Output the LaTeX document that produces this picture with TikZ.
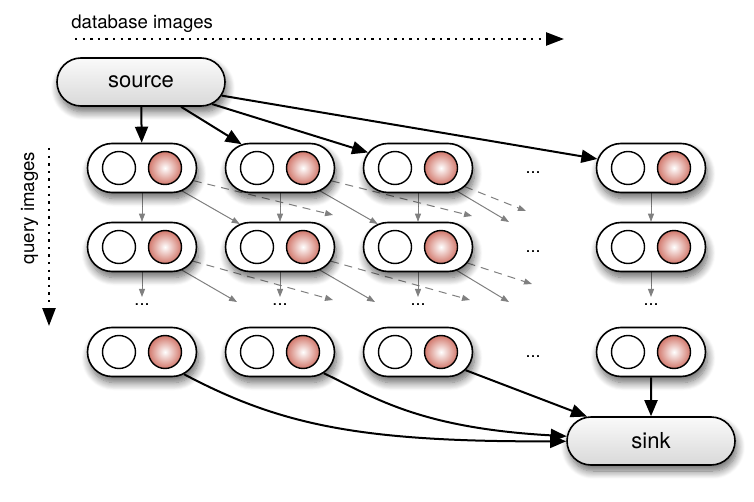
\documentclass[tikz,border=0pt]{standalone}
\usepackage{fontspec}
\setmainfont{TeX Gyre Heros}
\usepackage{tikz}
\usetikzlibrary{arrows.meta,shapes.misc,shadows.blur,backgrounds}
\definecolor{cellred}{RGB}{210,120,108}
\tikzstyle{cell} = [rounded rectangle, draw, line width=0.8pt, fill=white, minimum width=54.5pt, minimum height=24.5pt, inner sep=0pt, blur shadow={shadow xshift=1pt, shadow yshift=-3pt, shadow blur radius=4pt, shadow blur steps=10, shadow opacity=60}]
\tikzstyle{terminal} = [cell, minimum width=84pt, minimum height=24pt, top color=gray!4, bottom color=gray!30, font=\fontsize{11}{13}\selectfont]
\tikzstyle{plain} = [circle, draw, line width=0.7pt, minimum size=16.5pt, inner sep=0pt, fill=white]
\tikzstyle{ball} = [plain, inner color=white, outer color=cellred]
\tikzstyle{heading} = [inner sep=0pt, font=\fontsize{9.3}{11}\selectfont]
\tikzstyle{etc} = [font=\fontsize{9}{10}\selectfont]
\tikzstyle{link} = [line width=1pt, -{Triangle[length=8pt,width=6.5pt]}]
\tikzstyle{flow} = [gray, line width=0.5pt, -{Triangle[length=4pt,width=3pt]}]
\tikzstyle{skip} = [flow, dash pattern=on 4pt off 3pt]
\tikzstyle{axis} = [line width=1.2pt, dash pattern=on 1.2pt off 2.6pt, -{Triangle[length=9pt,width=6.5pt]}]

\begin{document}
\begin{tikzpicture}[x=0.5pt, y=-0.5pt, node distance=11.5pt]
\useasboundingbox (0,0) rectangle (754,502);

% axes
\node (dbtext) [heading, anchor=base west] at (71,29) {database images};
\coordinate (dbstart) at (75,39);
\coordinate (dbend) at (564,39);
\node (qtext) [heading, rotate=90, anchor=base] at (34,208) {query images};
\coordinate (qstart) at (49,148);
\coordinate (qend) at (49,326);
\draw [axis] (dbstart) -- (dbend);
\draw [axis] (qstart) -- (qend);

\node (source) [terminal] at (141,82) {source};
\node (sink) [terminal] at (651,441) {sink};

% first row
\node (m11) [cell] at (142,168) {};
\node (w11) [plain, left of=m11] {};
\node (r11) [ball, right of=m11] {};
\node (m12) [cell] at (280,168) {};
\node (w12) [plain, left of=m12] {};
\node (r12) [ball, right of=m12] {};
\node (m13) [cell] at (418,168) {};
\node (w13) [plain, left of=m13] {};
\node (r13) [ball, right of=m13] {};
\node (m14) [cell] at (651,168) {};
\node (w14) [plain, left of=m14] {};
\node (r14) [ball, right of=m14] {};

% second row
\node (m21) [cell] at (142,247) {};
\node (w21) [plain, left of=m21] {};
\node (r21) [ball, right of=m21] {};
\node (m22) [cell] at (280,247) {};
\node (w22) [plain, left of=m22] {};
\node (r22) [ball, right of=m22] {};
\node (m23) [cell] at (418,247) {};
\node (w23) [plain, left of=m23] {};
\node (r23) [ball, right of=m23] {};
\node (m24) [cell] at (651,247) {};
\node (w24) [plain, left of=m24] {};
\node (r24) [ball, right of=m24] {};

% last row
\node (m31) [cell] at (142,352) {};
\node (w31) [plain, left of=m31] {};
\node (r31) [ball, right of=m31] {};
\node (m32) [cell] at (280,352) {};
\node (w32) [plain, left of=m32] {};
\node (r32) [ball, right of=m32] {};
\node (m33) [cell] at (418,352) {};
\node (w33) [plain, left of=m33] {};
\node (r33) [ball, right of=m33] {};
\node (m34) [cell] at (651,352) {};
\node (w34) [plain, left of=m34] {};
\node (r34) [ball, right of=m34] {};

% dots
\node (h1) [etc] at (533,173) {...};
\node (h2) [etc] at (533,252) {...};
\node (h3) [etc] at (533,357) {...};
\node (v1) [etc] at (142,305) {...};
\node (v2) [etc] at (280,305) {...};
\node (v3) [etc] at (418,305) {...};
\node (v4) [etc] at (651,305) {...};

% free ends
\coordinate (s13) at (509,222);
\coordinate (s21) at (237,302);
\coordinate (s22) at (375,302);
\coordinate (s23) at (509,302);
\coordinate (k11) at (333,215);
\coordinate (k12) at (472,216);
\coordinate (k13) at (526,211);
\coordinate (k21) at (333,300);
\coordinate (k22) at (470,300);
\coordinate (k23) at (532,284);

\begin{pgfonlayer}{background}
\draw [link] (source) -- (m11);
\draw [link] (source) -- (m12);
\draw [link] (source) -- (m13);
\draw [link] (source) -- (m14);

\draw [flow] (m11) -- (m21);
\draw [flow] (m12) -- (m22);
\draw [flow] (m13) -- (m23);
\draw [flow] (m14) -- (m24);
\draw [flow] (m21) -- (v1);
\draw [flow] (m22) -- (v2);
\draw [flow] (m23) -- (v3);
\draw [flow] (m24) -- (v4);

\draw [flow] (m11) -- (m22);
\draw [flow] (m12) -- (m23);
\draw [flow] (m13) -- (s13);
\draw [flow] (m21) -- (s21);
\draw [flow] (m22) -- (s22);
\draw [flow] (m23) -- (s23);

\draw [skip] (m11) -- (k11);
\draw [skip] (m12) -- (k12);
\draw [skip] (m13) -- (k13);
\draw [skip] (m21) -- (k21);
\draw [skip] (m22) -- (k22);
\draw [skip] (m23) -- (k23);

\draw [link] (m31) .. controls (280,425) and (360,442) .. (sink);
\draw [link] (m32) .. controls (375,398) and (420,428) .. (sink);
\draw [link] (m33) -- (sink);
\draw [link] (m34) -- (sink);
\end{pgfonlayer}
\end{tikzpicture}
\end{document}
